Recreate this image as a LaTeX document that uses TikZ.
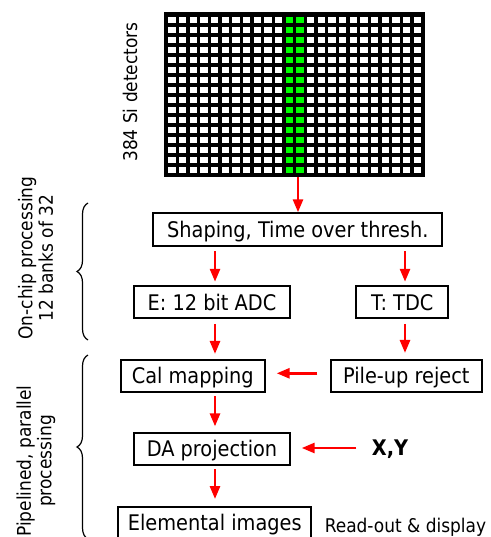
\documentclass[tikz,border=0pt]{standalone}
\usepackage{fontspec}
\IfFontExistsTF{DejaVu Sans Condensed}{\setmainfont{DejaVu Sans Condensed}}{\setmainfont{DejaVu Sans}[FakeStretch=0.9]}
\usetikzlibrary{arrows.meta,decorations.pathreplacing}
\definecolor{detgreen}{RGB}{0,255,0}
\definecolor{arrred}{RGB}{255,0,0}
\begin{document}
\begin{tikzpicture}[x=1pt,y=-1pt,
  box/.style={draw=black, line width=2pt, fill=white, inner sep=0pt,
    font=\fontsize{21.5}{24}\selectfont, text height=15.7pt, text depth=0pt},
  arr/.style={draw=arrred, line width=2.7pt, -{Triangle[length=13pt,width=10pt]}},
  side/.style={font=\fontsize{18.9}{20.5}\selectfont, align=center, rotate=90, inner sep=0pt},
  brc/.style={draw=black, line width=1.2pt, decorate, decoration={brace, amplitude=11pt}}]
\useasboundingbox (0,0) rectangle (490,537);
\clip (0,0) rectangle (490,537);
% detector array
\node[minimum width=261pt, minimum height=165pt, inner sep=0pt] (det) at (294.5,94.5) {};
\fill[black] (det.north west) rectangle (det.south east);
\foreach \i in {0,...,23}{
  \pgfmathsetmacro{\cx}{168.3+\i*10.67}
  \ifnum\i=11 \def\cc{detgreen}\else\ifnum\i=12 \def\cc{detgreen}\else\def\cc{white}\fi\fi
  \foreach \j in {0,...,15}{
    \fill[\cc] (\cx,16.7+\j*10) rectangle ++(7.3,6.7);
  }
}
\node[side] (detlab) at (130,92) {384 Si detectors};
% column coordinates
\coordinate (xm) at (298,0);
\coordinate (xl) at (215,0);
\coordinate (xr) at (405,0);
% boxes
\node[box, minimum width=289pt, minimum height=32.4pt] (shape) at (297.8,229.5) {Shaping, Time over thresh.};
\node[box, minimum width=155.4pt, minimum height=32.3pt] (adc) at (212,302.2) {E: 12 bit ADC};
\node[box, minimum width=92pt, minimum height=32.3pt] (tdc) at (402.3,302.2) {T: TDC};
\node[box, minimum width=143.7pt, minimum height=31.7pt] (cal) at (192.8,375.8) {Cal mapping};
\node[box, minimum width=150.7pt, minimum height=31.7pt] (pile) at (406.3,375.8) {Pile-up reject};
\node[box, minimum width=155.4pt, minimum height=32.3pt] (da) at (212,448.8) {DA projection};
\node[box, minimum width=193pt, minimum height=32.3pt] (elem) at (214.8,523) {Elemental images};
\node[font=\bfseries\fontsize{21.5}{24}\selectfont, text height=15.7pt, text depth=0pt, inner sep=0pt] (xy) at (390,448) {X,Y};
\node[font=\fontsize{18.9}{20}\selectfont, anchor=base, inner sep=0pt] (ro) at (405.5,532.7) {Read-out \& display};
% arrows
\draw[arr] (det.south -| xm) -- (shape.north -| xm);
\draw[arr, shorten <=4.3pt, shorten >=3.3pt] (shape.south -| xl) -- (adc.north -| xl);
\draw[arr, shorten <=4.3pt, shorten >=3.3pt] (shape.south -| xr) -- (tdc.north -| xr);
\draw[arr, shorten <=4.6pt, shorten >=5pt] (adc.south -| xl) -- (cal.north -| xl);
\draw[arr, shorten <=4.6pt, shorten >=6pt] (tdc.south -| xr) -- (pile.north -| xr);
\draw[arr, shorten <=12.7pt, shorten >=11pt] ([yshift=2.5pt]pile.west) -- ([yshift=2.5pt]cal.east);
\draw[arr, shorten <=3.4pt, shorten >=5.3pt] (cal.south -| xl) -- (da.north -| xl);
\draw[arr, shorten <=15.3pt, shorten >=11pt] (xy.west) -- (xy.west -| da.east);
\draw[arr, shorten <=3.4pt, shorten >=6.8pt] (da.south -| xl) -- (elem.north -| xl);
% braces and side labels
\draw[brc] (88,340) -- (88,203);
\draw[brc] (88,539) -- (88,355);
\node[side] (onchip) at (35.5,258) {On-chip processing\\12 banks of 32};
\node[side] (pipe) at (36,461) {Pipelined, parallel\\processing};
\end{tikzpicture}
\end{document}
